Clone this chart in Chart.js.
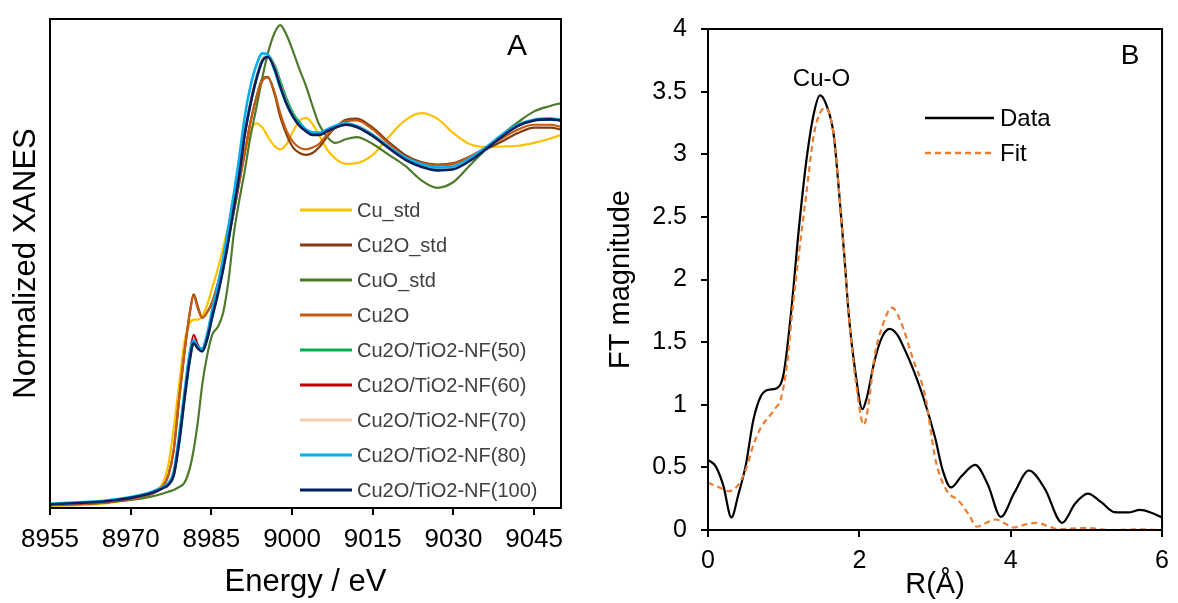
<!DOCTYPE html>
<html><head><meta charset="utf-8">
<script src="https://cdn.jsdelivr.net/npm/chart.js@4.4.0/dist/chart.umd.min.js"></script>
<style>
html,body{margin:0;padding:0;background:#fff;}
#wrap{position:relative;width:1178px;height:603px;overflow:hidden;background:#fff;}
#boxA{position:absolute;left:0;top:0;width:590px;height:603px;}
#boxB{position:absolute;left:590px;top:0;width:588px;height:603px;}
</style></head><body>
<div id="wrap"><div id="boxA"><canvas id="cA" width="590" height="603"></canvas></div><div id="boxB"><canvas id="cB" width="588" height="603"></canvas></div></div>
<script>
// ---------- Panel A data (Cu K-edge XANES) ----------
const energy = [8955, 8965, 8970, 8974, 8976, 8977, 8978, 8979, 8980, 8981, 8981.7, 8982.5, 8983.3, 8984.2, 8985.2, 8986.2, 8987.2, 8988.2, 8989.2, 8990.2, 8991.2, 8992.2, 8993.3, 8994.5, 8995.5, 8996.7, 8997.8, 8999, 9000.2, 9001.4, 9002.6, 9003.8, 9005, 9006.5, 9008, 9010, 9012, 9015, 9018, 9021, 9024, 9027, 9030, 9033, 9036, 9039, 9042, 9045, 9048, 9050];
const energyTicks = [8955, 8970, 8985, 9000, 9015, 9030, 9045];
const cuStd = [0.005,0.012,0.025,0.045,0.07,0.12,0.22,0.34,0.46,0.51, 0.52,0.52,0.53,0.56,0.61,0.66,0.72,0.78,0.85,0.92, 0.98,1.035,1.062,1.05,1.025,1.0,0.99,1.005,1.04,1.07, 1.077,1.06,1.03,0.99,0.965,0.95,0.952,0.975,1.025,1.07, 1.09,1.075,1.035,1.005,0.997,0.998,1.0,1.008,1.02,1.03];
const cu2oStd = [0.008,0.015,0.025,0.04,0.06,0.09,0.16,0.30,0.43,0.54, 0.59,0.555,0.525,0.54,0.57,0.62,0.68,0.75,0.82,0.9, 0.98,1.06,1.13,1.185,1.19,1.145,1.08,1.03,0.995,0.98, 0.975,0.98,0.995,1.025,1.05,1.072,1.075,1.05,1.01,0.975, 0.955,0.948,0.952,0.97,0.99,1.012,1.035,1.05,1.05,1.045];
const cuoStd = [0.008,0.015,0.022,0.032,0.04,0.045,0.05,0.058,0.07,0.11, 0.16,0.24,0.34,0.42,0.48,0.5,0.54,0.63,0.76,0.85, 0.93,1.02,1.1,1.19,1.255,1.31,1.333,1.305,1.26,1.21, 1.165,1.11,1.06,1.025,1.008,1.018,1.024,1.005,0.975,0.945, 0.905,0.884,0.9,0.945,0.99,1.03,1.065,1.095,1.11,1.118];
const cu2o = [0.008,0.015,0.025,0.04,0.06,0.09,0.16,0.30,0.43,0.54, 0.585,0.55,0.525,0.54,0.57,0.62,0.68,0.75,0.82,0.9, 0.98,1.06,1.13,1.18,1.188,1.15,1.09,1.04,1.01,0.995, 0.99,0.995,1.005,1.03,1.05,1.068,1.07,1.045,1.005,0.97, 0.952,0.946,0.95,0.97,0.995,1.02,1.045,1.058,1.058,1.052];
const nf50 = [0.01,0.018,0.028,0.042,0.055,0.064,0.09,0.18,0.3,0.41, 0.458,0.442,0.434,0.465,0.53,0.59,0.66,0.74,0.83,0.92, 1.03,1.11,1.18,1.235,1.25,1.225,1.18,1.13,1.09,1.065, 1.045,1.035,1.032,1.04,1.05,1.058,1.052,1.027,0.995,0.965, 0.945,0.935,0.938,0.96,0.992,1.027,1.056,1.07,1.073,1.07];
const nf60 = [0.01,0.018,0.028,0.042,0.055,0.065,0.095,0.19,0.31,0.425, 0.478,0.45,0.436,0.47,0.535,0.595,0.665,0.745,0.835,0.925, 1.035,1.115,1.185,1.238,1.247,1.217,1.167,1.117,1.08,1.056, 1.04,1.032,1.031,1.041,1.051,1.06,1.054,1.03,0.996,0.965, 0.945,0.936,0.94,0.962,0.993,1.028,1.057,1.071,1.074,1.07];
const nf70 = [0.01,0.018,0.028,0.042,0.055,0.065,0.093,0.185,0.305,0.415, 0.46,0.443,0.434,0.467,0.533,0.593,0.663,0.743,0.833,0.923, 1.033,1.113,1.183,1.24,1.25,1.22,1.17,1.12,1.083,1.058, 1.042,1.033,1.033,1.043,1.053,1.062,1.057,1.032,0.998,0.967, 0.947,0.938,0.941,0.963,0.994,1.028,1.058,1.072,1.075,1.072];
const nf80 = [0.012,0.02,0.03,0.045,0.058,0.068,0.1,0.2,0.32,0.43, 0.462,0.445,0.44,0.48,0.55,0.615,0.69,0.78,0.87,0.97, 1.08,1.16,1.22,1.255,1.252,1.21,1.16,1.115,1.08,1.06, 1.045,1.037,1.036,1.045,1.055,1.062,1.055,1.03,0.997,0.968, 0.95,0.94,0.943,0.965,0.995,1.03,1.058,1.072,1.075,1.072];
const nf100 = [0.01,0.018,0.028,0.042,0.055,0.064,0.09,0.18,0.3,0.41, 0.455,0.44,0.432,0.465,0.53,0.59,0.66,0.74,0.83,0.92, 1.03,1.11,1.18,1.235,1.245,1.215,1.165,1.115,1.08,1.055, 1.04,1.03,1.03,1.04,1.05,1.058,1.052,1.027,0.993,0.962, 0.942,0.932,0.935,0.958,0.99,1.025,1.055,1.07,1.073,1.07];
const seriesLabelsA = ['Cu_std','Cu2O_std','CuO_std','Cu2O','Cu2O/TiO2-NF(50)','Cu2O/TiO2-NF(60)','Cu2O/TiO2-NF(70)','Cu2O/TiO2-NF(80)','Cu2O/TiO2-NF(100)'];
const seriesValuesA = [cuStd, cu2oStd, cuoStd, cu2o, nf50, nf60, nf70, nf80, nf100];
const seriesColorsA = ['#FFC000','#843C0C','#4E7A2C','#C55A11','#00B050','#C00000','#F8CBAD','#00B0F0','#002060'];

// ---------- Panel B data (FT of EXAFS) ----------
const dataR = [0,0.1,0.2,0.31,0.4,0.5,0.6,0.7,0.8,0.9, 1.0,1.1,1.2,1.3,1.4,1.48,1.56,1.66,1.74,1.8, 1.86,1.95,2.04,2.1,2.2,2.3,2.4,2.5,2.6,2.7, 2.85,3.0,3.1,3.21,3.35,3.53,3.7,3.87,4.05,4.24, 4.45,4.68,4.85,5.02,5.2,5.37,5.55,5.71,5.85,6.0];
const dataMag = [0.56,0.51,0.36,0.10,0.28,0.52,0.88,1.07,1.12,1.13, 1.25,1.75,2.4,2.95,3.33,3.47,3.4,3.16,2.64,2.2, 1.72,1.25,0.965,1.06,1.35,1.54,1.605,1.56,1.44,1.3, 1.05,0.74,0.48,0.34,0.43,0.52,0.36,0.104,0.3,0.475, 0.33,0.057,0.21,0.29,0.22,0.143,0.14,0.16,0.14,0.10];
const fitR = [0,0.15,0.27,0.4,0.51,0.6,0.7,0.8,0.9,0.96, 1.05,1.11,1.2,1.29,1.4,1.48,1.55,1.66,1.74,1.8, 1.86,1.95,2.06,2.12,2.2,2.3,2.43,2.55,2.7,2.87, 3.01,3.16,3.31,3.45,3.55,3.65,3.8,3.93,4.04,4.2, 4.34,4.5,4.63,4.8,5.02,5.32,5.71,6.0];
const fitMag = [0.378,0.34,0.31,0.36,0.5,0.68,0.82,0.9,0.98,1.04, 1.35,1.72,2.2,2.64,3.16,3.33,3.37,3.16,2.64,2.2, 1.72,1.2,0.84,1.0,1.38,1.62,1.775,1.66,1.38,1.07, 0.55,0.31,0.235,0.12,0.026,0.05,0.084,0.05,0.02,0.045, 0.057,0.03,0.005,0.012,0.015,0.0,0.005,0.0];
const rTicks = [0, 2, 4, 6];
const magTicks = [0, 0.5, 1, 1.5, 2, 2.5, 3, 3.5, 4];

const FONT = '"Liberation Sans", Arial, sans-serif';

const framePlugin = {
  id: 'frame',
  afterDatasetsDraw(chart) {
    const {ctx, chartArea: a} = chart;
    ctx.save();
    ctx.strokeStyle = '#000';
    ctx.lineWidth = 2;
    ctx.strokeRect(a.left, a.top, a.right - a.left, a.bottom - a.top);
    ctx.restore();
  }
};

const legendA = {
  id: 'legendA',
  afterDraw(chart) {
    const {ctx, chartArea: a} = chart;
    ctx.save();
    ctx.font = '20px ' + FONT;
    ctx.textBaseline = 'middle';
    ctx.textAlign = 'left';
    chart.data.datasets.forEach((ds, i) => {
      const y = a.top + 191 + i * 35;
      const x0 = a.left + 250;
      ctx.strokeStyle = ds.borderColor;
      ctx.lineWidth = 3;
      ctx.beginPath(); ctx.moveTo(x0, y); ctx.lineTo(x0 + 52, y); ctx.stroke();
      ctx.fillStyle = '#404040';
      ctx.fillText(ds.label, x0 + 57, y + 1);
    });
    ctx.font = '30px ' + FONT;
    ctx.fillStyle = '#000';
    ctx.textAlign = 'center';
    ctx.fillText('A', a.right - 44, a.top + 28);
    ctx.restore();
  }
};

const legendB = {
  id: 'legendB',
  afterDraw(chart) {
    const {ctx, chartArea: a} = chart;
    ctx.save();
    ctx.textBaseline = 'middle';
    ctx.font = '24px ' + FONT;
    chart.data.datasets.forEach((ds, i) => {
      const y = a.top + 89 + i * 35;
      const x0 = a.left + 217;
      ctx.strokeStyle = ds.borderColor;
      ctx.lineWidth = 2.5;
      ctx.setLineDash(ds.borderDash || []);
      ctx.beginPath(); ctx.moveTo(x0, y); ctx.lineTo(x0 + 69, y); ctx.stroke();
      ctx.setLineDash([]);
      ctx.fillStyle = '#000';
      ctx.textAlign = 'left';
      ctx.fillText(ds.label, x0 + 75, y + 1);
    });
    ctx.textAlign = 'center';
    ctx.font = '24px ' + FONT;
    const xs = chart.scales.x, ys = chart.scales.y;
    ctx.fillText('Cu-O', xs.getPixelForValue(1.5), ys.getPixelForValue(3.47) - 16);
    ctx.font = '28px ' + FONT;
    ctx.fillText('B', a.right - 32, a.top + 27);
    ctx.restore();
  }
};

const dsA = seriesLabelsA.map((label, i) => ({
  label,
  data: energy.map((e, k) => ({x: e, y: seriesValuesA[i][k]})),
  borderColor: seriesColorsA[i],
  backgroundColor: seriesColorsA[i],
  borderWidth: (i >= 7) ? 2.6 : 2.2,
  pointRadius: 0,
  cubicInterpolationMode: 'monotone',
  fill: false,
  order: seriesLabelsA.length - 1 - i
}));

new Chart(document.getElementById('cA'), {
  type: 'line',
  data: { datasets: dsA },
  options: {
    responsive: false,
    animation: false,
    events: [],
    layout: { padding: { top: 19, right: 29, left: 0, bottom: 0 } },
    plugins: { legend: { display: false }, tooltip: { enabled: false } },
    scales: {
      x: {
        type: 'linear', min: 8955, max: 9050,
        afterBuildTicks: s => { s.ticks = energyTicks.map(v => ({value: v})); },
        afterFit: s => { s.height = 95; },
        ticks: { font: {family: FONT, size: 26}, color: '#000', padding: 9, autoSkip: false, maxRotation: 0, callback: v => String(v) },
        grid: { display: true, drawOnChartArea: false, drawTicks: true, tickLength: 7, color: '#000', lineWidth: 2 },
        border: { display: true, color: '#000', width: 2 },
        title: { display: true, text: 'Energy / eV', font: {family: FONT, size: 31}, color: '#000', padding: {top: 0, bottom: 2} }
      },
      y: {
        type: 'linear', min: 0, max: 1.35,
        afterFit: s => { s.width = 50; },
        ticks: { display: false },
        grid: { display: false },
        border: { display: true, color: '#000', width: 2 },
        title: { display: true, text: 'Normalized XANES', font: {family: FONT, size: 31}, color: '#000', padding: {top: 8, bottom: 0} }
      }
    }
  },
  plugins: [framePlugin, legendA]
});

new Chart(document.getElementById('cB'), {
  type: 'line',
  data: { datasets: [
    { label: 'Data', data: dataR.map((r, k) => ({x: r, y: dataMag[k]})), borderColor: '#000', backgroundColor: '#000', borderWidth: 2.2, pointRadius: 0, cubicInterpolationMode: 'monotone', fill: false, order: 1 },
    { label: 'Fit', data: fitR.map((r, k) => ({x: r, y: fitMag[k]})), borderColor: '#ED7D31', backgroundColor: '#ED7D31', borderWidth: 2.2, borderDash: [6, 4], pointRadius: 0, cubicInterpolationMode: 'monotone', fill: false, order: 0 }
  ]},
  options: {
    responsive: false,
    animation: false,
    events: [],
    layout: { padding: { top: 19, right: 10, left: 0, bottom: 0 } },
    plugins: { legend: { display: false }, tooltip: { enabled: false } },
    scales: {
      x: {
        type: 'linear', min: 0, max: 6,
        afterBuildTicks: s => { s.ticks = rTicks.map(v => ({value: v})); },
        afterFit: s => { s.height = 73; },
        ticks: { font: {family: FONT, size: 25}, color: '#000', padding: 9, autoSkip: false, maxRotation: 0, callback: v => String(v) },
        grid: { display: true, drawOnChartArea: false, drawTicks: true, tickLength: 7, color: '#000', lineWidth: 2 },
        border: { display: true, color: '#000', width: 2 },
        title: { display: true, text: 'R(Å)', font: {family: FONT, size: 29}, color: '#000', padding: {top: 0, bottom: 1} }
      },
      y: {
        type: 'linear', min: 0, max: 4,
        afterBuildTicks: s => { s.ticks = magTicks.map(v => ({value: v})); },
        afterFit: s => { s.width = 118; },
        ticks: { font: {family: FONT, size: 25}, color: '#000', padding: 14, autoSkip: false, callback: v => String(v) },
        grid: { display: true, drawOnChartArea: false, drawTicks: true, tickLength: 7, color: '#000', lineWidth: 2 },
        border: { display: true, color: '#000', width: 2 },
        title: { display: true, text: 'FT magnitude', font: {family: FONT, size: 29}, color: '#000', padding: {top: 14, bottom: 0} }
      }
    }
  },
  plugins: [framePlugin, legendB]
});
</script>
</body></html>
